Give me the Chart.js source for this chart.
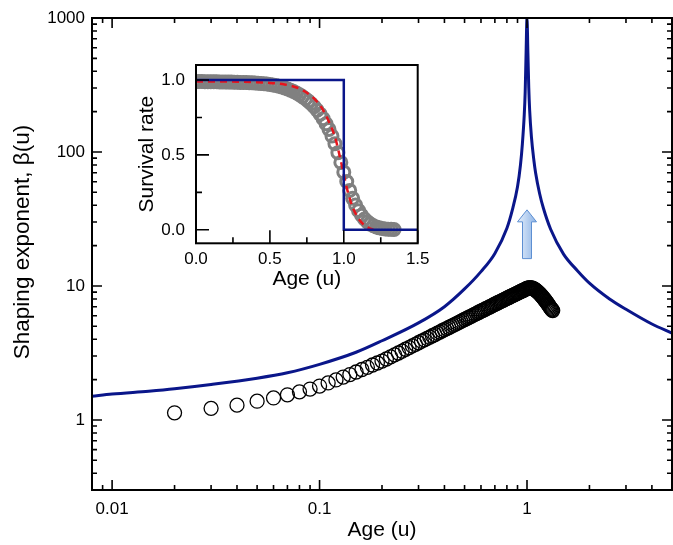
<!DOCTYPE html>
<html>
<head>
<meta charset="utf-8">
<script src="https://cdn.jsdelivr.net/npm/chart.js@4.4.1/dist/chart.umd.min.js"></script>
<style>
  body { margin: 0; background: #fff; }
  #wrap { position: relative; width: 673px; height: 545px; }
  #main { position: absolute; left: 0; top: 0; }
  #inset { position: absolute; left: 130px; top: 50px; }
</style>
</head>
<body>
<div id="wrap">
  <canvas id="main" width="673" height="545"></canvas>
  <canvas id="inset" width="300" height="245"></canvas>
</div>
<script>
// main panel: shaping exponent vs age (log-log)
const blueAge  = [0.008, 0.01, 0.015, 0.02, 0.03, 0.05, 0.07, 0.1, 0.15, 0.2, 0.3, 0.4, 0.5, 0.6, 0.7, 0.8, 0.85, 0.9, 0.93, 0.95, 0.97, 0.98, 0.99, 1.0,
                  1.01, 1.02, 1.03, 1.05, 1.08, 1.1, 1.15, 1.2, 1.3, 1.5, 1.75, 2, 2.5, 3, 4, 5];
const blueBeta = [1.5, 1.56, 1.64, 1.71, 1.84, 2.05, 2.25, 2.6, 3.2, 3.9, 5.3, 7.0, 9.5, 12.8, 17.5, 27, 37, 55, 80, 115, 190, 280, 550, 1000,
                  550, 300, 205, 130, 86, 70, 49, 38, 26.5, 17.3, 13, 10.5, 8.0, 6.7, 5.2, 4.45];

const dotAge  = [0.02, 0.03, 0.04, 0.05, 0.06, 0.07, 0.08, 0.09,
                 0.10, 0.11, 0.12, 0.13, 0.14, 0.15, 0.16, 0.17, 0.18, 0.19,
                 0.20, 0.21, 0.22, 0.23, 0.24, 0.25, 0.26, 0.27, 0.28, 0.29,
                 0.30, 0.31, 0.32, 0.33, 0.34, 0.35, 0.36, 0.37, 0.38, 0.39,
                 0.40, 0.41, 0.42, 0.43, 0.44, 0.45, 0.46, 0.47, 0.48, 0.49,
                 0.50, 0.51, 0.52, 0.53, 0.54, 0.55, 0.56, 0.57, 0.58, 0.59,
                 0.60, 0.61, 0.62, 0.63, 0.64, 0.65, 0.66, 0.67, 0.68, 0.69,
                 0.70, 0.71, 0.72, 0.73, 0.74, 0.75, 0.76, 0.77, 0.78, 0.79,
                 0.80, 0.81, 0.82, 0.83, 0.84, 0.85, 0.86, 0.87, 0.88, 0.89,
                 0.90, 0.91, 0.92, 0.93, 0.94, 0.95, 0.96, 0.97, 0.98, 0.99,
                 1.00, 1.01, 1.02, 1.03, 1.04, 1.05, 1.06, 1.07, 1.08, 1.09,
                 1.10, 1.11, 1.12, 1.13, 1.14, 1.15, 1.16, 1.17, 1.18, 1.19,
                 1.20, 1.21, 1.22, 1.23, 1.24, 1.25, 1.26, 1.27, 1.28, 1.29,
                 1.30, 1.31, 1.32, 1.33];
const dotBeta = [1.13, 1.22, 1.29, 1.38, 1.46, 1.54, 1.62, 1.70,
                 1.79, 1.89, 1.99, 2.09, 2.18, 2.28, 2.38, 2.47, 2.57, 2.66,
                 2.75, 2.85, 2.96, 3.06, 3.16, 3.26, 3.37, 3.47, 3.57, 3.67,
                 3.77, 3.87, 3.96, 4.06, 4.15, 4.25, 4.34, 4.44, 4.53, 4.63,
                 4.72, 4.81, 4.90, 4.99, 5.08, 5.17, 5.26, 5.35, 5.44, 5.53,
                 5.62, 5.71, 5.79, 5.88, 5.96, 6.05, 6.14, 6.22, 6.31, 6.39,
                 6.48, 6.56, 6.64, 6.73, 6.81, 6.89, 6.97, 7.05, 7.14, 7.22,
                 7.30, 7.38, 7.46, 7.54, 7.62, 7.70, 7.77, 7.85, 7.93, 8.01,
                 8.09, 8.17, 8.24, 8.32, 8.39, 8.47, 8.55, 8.62, 8.70, 8.77,
                 8.85, 8.92, 8.99, 9.07, 9.14, 9.21, 9.28, 9.35, 9.42, 9.50,
                 9.57, 9.62, 9.66, 9.68, 9.68, 9.66, 9.62, 9.56, 9.49, 9.41,
                 9.32, 9.22, 9.11, 9.00, 8.88, 8.76, 8.64, 8.51, 8.38, 8.25,
                 8.12, 7.99, 7.86, 7.73, 7.60, 7.47, 7.34, 7.21, 7.08, 6.96,
                 6.84, 6.73, 6.63, 6.55];

// inset: survival rate vs age
const survAge  = [0.00, 0.02, 0.04, 0.06, 0.08, 0.10, 0.12, 0.14, 0.16, 0.18, 0.20, 0.22, 0.24, 0.26, 0.28, 0.30, 0.32, 0.34,
                  0.36, 0.38, 0.40, 0.42, 0.44, 0.46, 0.48, 0.50, 0.52, 0.54, 0.56, 0.58, 0.60, 0.62, 0.64, 0.66, 0.68, 0.70,
                  0.72, 0.74, 0.76, 0.78, 0.80, 0.82, 0.84, 0.86, 0.88, 0.90, 0.92, 0.94, 0.96, 0.98, 1.00, 1.02, 1.04, 1.06,
                  1.08, 1.10, 1.12, 1.14, 1.16, 1.18, 1.20, 1.22, 1.24, 1.26, 1.28, 1.30, 1.32, 1.34];
const survRate = [0.990, 0.990, 0.990, 0.989, 0.989, 0.988, 0.988, 0.988, 0.987, 0.987, 0.987, 0.986, 0.986, 0.985, 0.985, 0.984, 0.984, 0.983,
                  0.982, 0.981, 0.980, 0.979, 0.977, 0.975, 0.973, 0.970, 0.967, 0.963, 0.958, 0.953, 0.947, 0.940, 0.932, 0.923, 0.913, 0.902,
                  0.889, 0.875, 0.859, 0.841, 0.821, 0.798, 0.772, 0.742, 0.708, 0.670, 0.626, 0.575, 0.515, 0.450, 0.385, 0.322, 0.263, 0.210,
                  0.165, 0.128, 0.097, 0.072, 0.053, 0.038, 0.027, 0.019, 0.013, 0.009, 0.006, 0.004, 0.003, 0.002];
const fitAge  = [0, 0.1, 0.2, 0.3, 0.4, 0.5, 0.6, 0.68, 0.75, 0.8, 0.85, 0.9, 0.94, 0.98, 1.02, 1.06, 1.1, 1.14, 1.18, 1.2];
const fitRate = [0.99, 0.99, 0.99, 0.988, 0.985, 0.98, 0.97, 0.95, 0.915, 0.875, 0.815, 0.72, 0.62, 0.46, 0.28, 0.15, 0.075, 0.03, 0.008, 0.003];
const stepAge  = [0, 1, 1, 1.5];
const stepRate = [1, 1, 0, 0];

// tick values
const xMajor = [0.01, 0.1, 1];
const xMinor = [0.009, 0.02, 0.03, 0.04, 0.05, 0.06, 0.07, 0.08, 0.09, 0.2, 0.3, 0.4, 0.5, 0.6, 0.7, 0.8, 0.9, 2, 3, 4];
const yMajor = [1, 10, 100, 1000];
const yMinor = [0.4, 0.5, 0.6, 0.7, 0.8, 0.9, 2, 3, 4, 5, 6, 7, 8, 9, 20, 30, 40, 50, 60, 70, 80, 90, 200, 300, 400, 500, 600, 700, 800, 900];
const insetXMajor = [0, 0.5, 1, 1.5];
const insetXMinor = [0.25, 0.75, 1.25];
const insetYMajor = [0, 0.5, 1];
const insetYMinor = [0.25, 0.75];

const NAVY = '#0a168a';
Chart.defaults.font.family = '"Liberation Sans", Arial, sans-serif';
Chart.defaults.color = '#000';

const pts = (xs, ys) => xs.map((x, i) => ({ x: x, y: ys[i] }));
// keep the plot box where we put it, no extra label padding
const noPad = s => { s.paddingLeft = 0; s.paddingRight = 0; s.paddingTop = 0; s.paddingBottom = 0; };

// inward tick marks + box frame
function frameTicks(o) {
  return {
    id: 'frameTicks',
    afterDatasetsDraw(chart) {
      const { ctx, chartArea: a, scales: { x, y } } = chart;
      ctx.save();
      ctx.strokeStyle = '#000';
      ctx.lineWidth = 1.6;
      ctx.beginPath();
      const xt = o.xMajor.map(v => [v, o.major]).concat(o.xMinor.map(v => [v, o.minor]));
      xt.forEach(([v, len]) => {
        const p = x.getPixelForValue(v);
        ctx.moveTo(p, a.bottom); ctx.lineTo(p, a.bottom - len);
        if (o.mirror) { ctx.moveTo(p, a.top); ctx.lineTo(p, a.top + len); }
      });
      const yt = o.yMajor.map(v => [v, o.major]).concat(o.yMinor.map(v => [v, o.minor]));
      yt.forEach(([v, len]) => {
        const p = y.getPixelForValue(v);
        ctx.moveTo(a.left, p); ctx.lineTo(a.left + len, p);
        if (o.mirror) { ctx.moveTo(a.right, p); ctx.lineTo(a.right - len, p); }
      });
      ctx.stroke();
      ctx.lineWidth = 2;
      ctx.strokeRect(a.left, a.top, a.right - a.left, a.bottom - a.top);
      ctx.restore();
    }
  };
}

const arrowAge = 1, arrowFrom = 16, arrowTo = 37;
const arrowPlugin = {
  id: 'arrow',
  afterDatasetsDraw(chart) {
    const { ctx, scales: { x, y } } = chart;
    const cx = x.getPixelForValue(arrowAge);
    const yb = y.getPixelForValue(arrowFrom);
    const yt = y.getPixelForValue(arrowTo);
    const hb = yt + 12;
    ctx.save();
    const g = ctx.createLinearGradient(cx - 9, 0, cx + 9, 0);
    g.addColorStop(0, '#e4eefb');
    g.addColorStop(1, '#8db4e6');
    ctx.fillStyle = g;
    ctx.strokeStyle = '#5d8fd2';
    ctx.lineWidth = 1;
    ctx.beginPath();
    ctx.moveTo(cx - 4.5, yb);
    ctx.lineTo(cx - 4.5, hb);
    ctx.lineTo(cx - 9.5, hb);
    ctx.lineTo(cx, yt);
    ctx.lineTo(cx + 9.5, hb);
    ctx.lineTo(cx + 4.5, hb);
    ctx.lineTo(cx + 4.5, yb);
    ctx.closePath();
    ctx.fill();
    ctx.stroke();
    ctx.restore();
  }
};

const yTitlePlugin = {
  id: 'yTitle',
  afterDraw(chart) {
    const ctx = chart.ctx;
    ctx.save();
    ctx.translate(22.5, 242);
    ctx.rotate(-Math.PI / 2);
    ctx.font = '22.5px "Liberation Sans", Arial, sans-serif';
    ctx.fillStyle = '#000';
    ctx.textAlign = 'center';
    ctx.textBaseline = 'middle';
    ctx.fillText('Shaping exponent, β(u)', 0, 0);
    ctx.restore();
  }
};

new Chart(document.getElementById('main'), {
  type: 'scatter',
  data: {
    datasets: [
      { label: 'β(u)', data: pts(blueAge, blueBeta), showLine: true, borderColor: NAVY, borderWidth: 3,
        pointRadius: 0, cubicInterpolationMode: 'monotone' },
      { label: 'estimate', data: pts(dotAge, dotBeta), showLine: false, pointRadius: 7, borderWidth: 1.3,
        borderColor: '#000', backgroundColor: 'rgba(0,0,0,0)' }
    ]
  },
  options: {
    responsive: false,
    animation: false,
    devicePixelRatio: 1,
    layout: { autoPadding: false, padding: { top: 18, right: 1, left: 0, bottom: 0 } },
    plugins: { legend: { display: false }, tooltip: { enabled: false } },
    scales: {
      x: {
        type: 'logarithmic', min: 0.008, max: 5,
        grid: { display: false, drawTicks: false }, border: { display: false },
        afterBuildTicks: s => { s.ticks = xMajor.map(v => ({ value: v })); },
        afterFit: s => { s.height = 55; noPad(s); },
        ticks: { callback: v => String(v), font: { size: 17 }, padding: 9, maxRotation: 0, autoSkip: false },
        title: { display: true, text: 'Age (u)', font: { size: 21 }, padding: { top: 0, bottom: 2 } }
      },
      y: {
        type: 'logarithmic', min: 0.3, max: 1000,
        grid: { display: false, drawTicks: false }, border: { display: false },
        afterBuildTicks: s => { s.ticks = yMajor.map(v => ({ value: v })); },
        afterFit: s => { s.width = 92; noPad(s); },
        ticks: { callback: v => String(v), font: { size: 17 }, padding: 7, autoSkip: false }
      }
    }
  },
  plugins: [frameTicks({ xMajor, xMinor, yMajor, yMinor, major: 10, minor: 5, mirror: true }), arrowPlugin, yTitlePlugin]
});

new Chart(document.getElementById('inset'), {
  type: 'scatter',
  data: {
    datasets: [
      { label: 'step', data: pts(stepAge, stepRate), showLine: true, borderColor: NAVY, borderWidth: 2.5, pointRadius: 0 },
      { label: 'fit', data: pts(fitAge, fitRate), showLine: true, borderColor: '#e8141c', borderWidth: 2.5,
        borderDash: [7, 5], pointRadius: 0, cubicInterpolationMode: 'monotone' },
      { label: 'survival', data: pts(survAge, survRate), showLine: false, pointRadius: 6, borderWidth: 3,
        borderColor: '#808080', backgroundColor: 'rgba(0,0,0,0)' }
    ]
  },
  options: {
    responsive: false,
    animation: false,
    devicePixelRatio: 1,
    layout: { autoPadding: false, padding: { top: 15, right: 12.3, left: 0, bottom: 0 } },
    plugins: { legend: { display: false }, tooltip: { enabled: false } },
    scales: {
      x: {
        type: 'linear', min: 0, max: 1.5,
        grid: { display: false, drawTicks: false }, border: { display: false },
        afterBuildTicks: s => { s.ticks = insetXMajor.map(v => ({ value: v })); },
        afterFit: s => { s.height = 51.7; noPad(s); },
        ticks: { callback: v => v.toFixed(1), font: { size: 17 }, padding: 5.5, maxRotation: 0, autoSkip: false },
        title: { display: true, text: 'Age (u)', font: { size: 21 }, padding: { top: 0, bottom: 3.4 } }
      },
      y: {
        type: 'linear', min: -0.09, max: 1.1,
        grid: { display: false, drawTicks: false }, border: { display: false },
        afterBuildTicks: s => { s.ticks = insetYMajor.map(v => ({ value: v })); },
        afterFit: s => { s.width = 66; noPad(s); },
        ticks: { callback: v => v.toFixed(1), font: { size: 17 }, padding: 11, autoSkip: false },
        title: { display: true, text: 'Survival rate', font: { size: 21 }, padding: { top: 4.4, bottom: 0 } }
      }
    }
  },
  plugins: [frameTicks({ xMajor: insetXMajor, xMinor: insetXMinor, yMajor: insetYMajor, yMinor: insetYMinor, major: 13, minor: 6, mirror: false })]
});
</script>
</body>
</html>
